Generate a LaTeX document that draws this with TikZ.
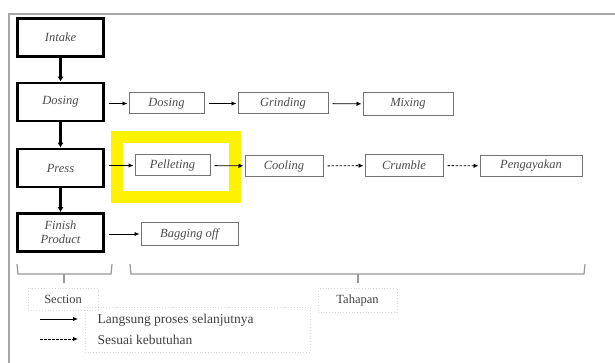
\documentclass[tikz,border=0pt]{standalone}
\usepackage{fontspec}
\setmainfont{Liberation Serif}
\usetikzlibrary{arrows.meta}
\begin{document}
\begin{tikzpicture}[x=1pt,y=-1pt,
  mainbox/.style={draw=black, line width=2.6pt, minimum width=86pt, minimum height=38pt, inner sep=1pt, font=\fontsize{12.5}{14}\selectfont\itshape, text=black!70, align=center},
  subbox/.style={draw=black!55, line width=1pt, minimum height=21pt, inner sep=1pt, font=\fontsize{12.5}{14}\selectfont\itshape, text=black!70},
  flow/.style={line width=0.9pt, -{Latex[length=5pt,width=4.5pt]}, shorten <=4pt, shorten >=1pt},
  optflow/.style={flow, dashed, dash pattern=on 2.5pt off 1.5pt},
  down/.style={line width=2.4pt, -{Latex[length=5pt,width=6pt]}},
  brace/.style={draw=black!40, line width=1.2pt},
  faint/.style={draw=black!15, dotted, line width=0.8pt},
  lbl/.style={font=\fontsize{12.5}{14}\selectfont, text=black!75},
  leglbl/.style={font=\fontsize{13.5}{15}\selectfont, text=black!75}]
\useasboundingbox (0,0) rectangle (615,363);
\fill[white] (0,0) rectangle (615,363);
% frame
\draw[black!35, line width=1.4pt] (615,14) -- (9,14) -- (9,363);
% highlight
\draw[yellow, line width=12pt] (116.5,137) rectangle (235,197);
% main column
\node[mainbox] (intake) at (60.5,37.5) {Intake};
\node[mainbox] (dosing) at (60.5,102) {Dosing};
\node[mainbox] (press) at (60.5,168) {Press};
\node[mainbox] (finish) at (60.5,232.5) {Finish\\Product};
\draw[down] (intake) -- (dosing);
\draw[down] (dosing) -- (press);
\draw[down] (press) -- (finish);
% dosing row
\node[subbox, minimum width=75pt] (d2) at (166.5,103.5) {Dosing};
\node[subbox, minimum width=90pt] (grind) at (283,103.5) {Grinding};
\node[subbox, minimum width=90pt, minimum height=23pt] (mix) at (408,104) {Mixing};
\draw[flow] (dosing.east |- d2.west) -- (d2.west);
\draw[flow] (d2) -- (grind);
\draw[flow] (grind) -- (mix);
% press row
\node[subbox, minimum width=75pt] (pellet) at (172.5,165.5) {Pelleting};
\node[subbox, minimum width=78pt] (cool) at (284,166) {Cooling};
\node[subbox, minimum width=78pt, minimum height=22pt] (crumb) at (404,165.5) {Crumble};
\node[subbox, minimum width=102pt] (ayak) at (531,166) {Pengayakan};
\draw[flow] (press.east |- pellet.west) -- (pellet.west);
\draw[flow] (pellet) -- (cool);
\draw[optflow] (cool) -- (crumb);
\draw[optflow] (crumb) -- (ayak);
% finish row
\node[subbox, minimum width=97pt, minimum height=22pt] (bag) at (189.5,234) {Bagging off};
\draw[flow] (finish.east |- bag.west) -- (bag.west);
% braces
\draw[brace] (17,264) -- (18,274) -- (111,274) -- (112,264);
\draw[brace] (64,274) -- (64,283);
\draw[brace] (130,264) -- (131,274) -- (584,274) -- (585,264);
\draw[brace] (358,274) -- (358,283);
% labels
\node[faint, lbl, minimum width=70pt, minimum height=22pt] (section) at (63,299) {Section};
\node[faint, lbl, minimum width=79pt, minimum height=24pt] (tahapan) at (357.5,300) {Tahapan};
% legend
\draw[faint] (85,307) rectangle (310,352);
\coordinate (ls1) at (36,319);
\coordinate (le1) at (79,319);
\coordinate (ls2) at (36,339);
\coordinate (le2) at (79,339);
\draw[flow] (ls1) -- (le1);
\draw[optflow] (ls2) -- (le2);
\node[leglbl, anchor=west] (leg1) at (94,320) {Langsung proses selanjutnya};
\node[leglbl, anchor=west] (leg2) at (94,340) {Sesuai kebutuhan};
\end{tikzpicture}
\end{document}
